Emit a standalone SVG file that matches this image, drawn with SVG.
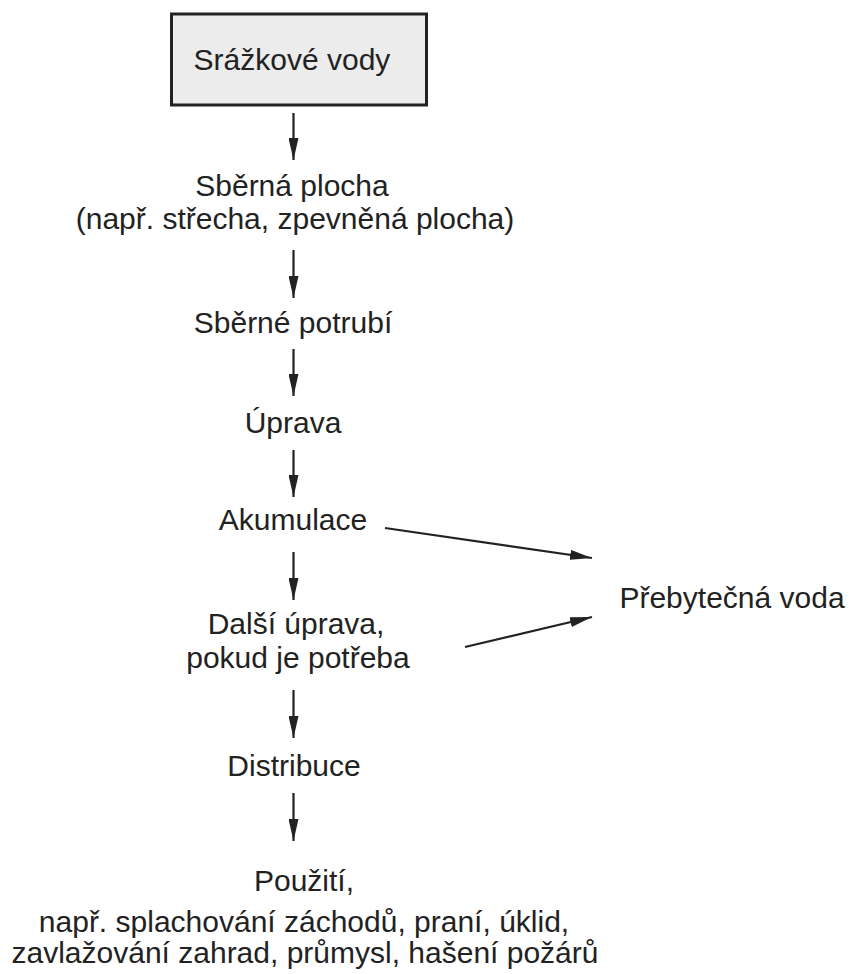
<svg xmlns="http://www.w3.org/2000/svg" width="852" height="974" viewBox="0 0 852 974">
<style>
text{font-family:"Liberation Sans",Arial,sans-serif;font-size:30px;fill:#222;text-anchor:middle}
.ln{stroke:#222;stroke-width:2.2;fill:none}
</style>
<defs>
<marker id="ah" viewBox="0 0 22 10" refX="22" refY="5" markerWidth="22" markerHeight="10" markerUnits="userSpaceOnUse" orient="auto">
<path d="M0,0 L22,5 L0,10 Z" fill="#222"/>
</marker>
</defs>
<rect width="852" height="974" fill="#fff"/>
<g id="n1">
<rect x="171.5" y="14" width="255" height="91" fill="#ececec" stroke="#222" stroke-width="3"/>
<text x="292" y="70">Srážkové vody</text>
</g>
<g id="n2">
<text x="292" y="196">Sběrná plocha</text>
<text x="295" y="229">(např. střecha, zpevněná plocha)</text>
</g>
<g id="n3"><text x="293" y="333">Sběrné potrubí</text></g>
<g id="n4"><text x="293" y="433">Úprava</text></g>
<g id="n5"><text x="293" y="530">Akumulace</text></g>
<g id="n6">
<text x="296" y="634">Další úprava,</text>
<text x="298" y="668">pokud je potřeba</text>
</g>
<g id="n7"><text x="294" y="776">Distribuce</text></g>
<g id="n8">
<text x="304" y="891">Použití,</text>
<text x="304" y="932">např. splachování záchodů, praní, úklid,</text>
<text x="305" y="963">zavlažování zahrad, průmysl, hašení požárů</text>
</g>
<g id="n9"><text x="732" y="608">Přebytečná voda</text></g>
<g id="connectors" class="ln" marker-end="url(#ah)">
<line x1="293.5" y1="113" x2="293.5" y2="160" marker-end="url(#ah)"/>
<line x1="293.5" y1="250" x2="293.5" y2="298" marker-end="url(#ah)"/>
<line x1="293.5" y1="349" x2="293.5" y2="396" marker-end="url(#ah)"/>
<line x1="293.5" y1="450" x2="293.5" y2="497" marker-end="url(#ah)"/>
<line x1="293.5" y1="552" x2="293.5" y2="600" marker-end="url(#ah)"/>
<line x1="293.5" y1="690" x2="293.5" y2="738" marker-end="url(#ah)"/>
<line x1="293.5" y1="793" x2="293.5" y2="841" marker-end="url(#ah)"/>
<line x1="385" y1="528" x2="592" y2="558" marker-end="url(#ah)"/>
<line x1="465" y1="647" x2="592" y2="617" marker-end="url(#ah)"/>
</g>
</svg>
